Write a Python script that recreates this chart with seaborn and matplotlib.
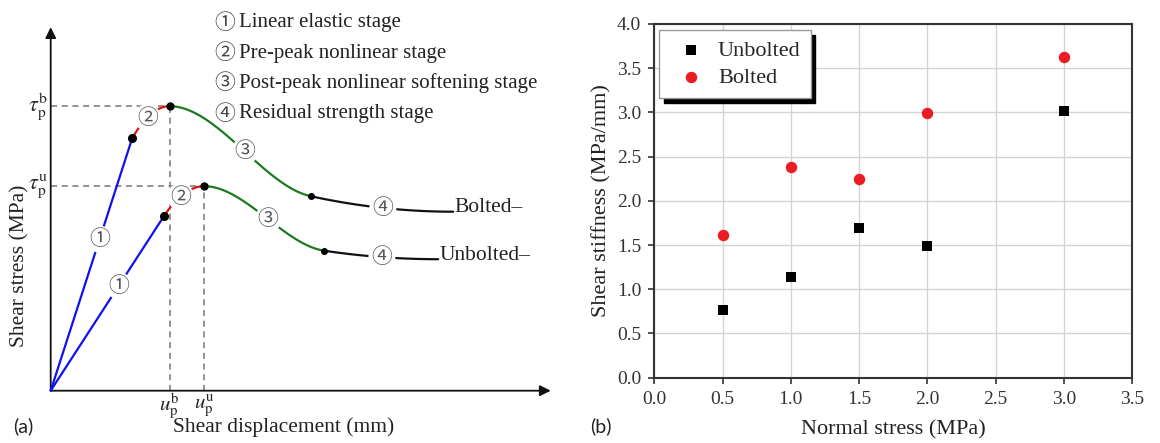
import numpy as np
import pandas as pd
import matplotlib
matplotlib.use("Agg")
import matplotlib.pyplot as plt
import seaborn as sns

# ---------------- (b) measured shear stiffness ----------------
normal_stress = [0.5, 1.0, 1.5, 2.0, 3.0]
stiffness_unbolted = [0.77, 1.14, 1.69, 1.49, 3.02]
stiffness_bolted = [1.61, 2.38, 2.25, 2.99, 3.63]
x_ticks = [0.0, 0.5, 1.0, 1.5, 2.0, 2.5, 3.0, 3.5]
y_ticks = [0.0, 0.5, 1.0, 1.5, 2.0, 2.5, 3.0, 3.5, 4.0]

# ---------------- (a) schematic shear curves (arbitrary units) ----------------
# key points: end of elastic stage, peak, onset of residual stage, end of curve
bolted_disp = [1.63, 2.38, 5.20, 8.05]
bolted_stress = [5.05, 5.69, 3.89, 3.58]
unbolted_disp = [2.27, 3.07, 5.47, 7.75]
unbolted_stress = [3.50, 4.09, 2.80, 2.63]
stage_marks = ["\u2460", "\u2461", "\u2462", "\u2463"]
stage_names = ["Linear elastic stage", "Pre-peak nonlinear stage",
               "Post-peak nonlinear softening stage", "Residual strength stage"]
stage_colors = ["#1010f0", "#e01010", "#1e7a1e", "#111111"]

sns.set_style("white")
SERIF = ["Liberation Serif", "Noto Sans CJK SC"]
plt.rcParams["font.family"] = SERIF
plt.rcParams["mathtext.fontset"] = "stix"

fig = plt.figure(figsize=(11.6, 4.43), dpi=100)

# ======================= panel (a) =======================
axa = fig.add_axes([0, 0, 560 / 1160, 1])
axa.set_xlim(-1.014, 10.186)
axa.set_ylim(-1.046, 7.814)
axa.axis("off")

arrow = dict(arrowstyle="-|>", color="#111111", lw=1.3, mutation_scale=16,
             shrinkA=0, shrinkB=0)
axa.annotate("", xy=(10.0, 0), xytext=(0, 0), arrowprops=arrow)
axa.annotate("", xy=(0, 7.27), xytext=(0, 0), arrowprops=arrow)


def stage_segments(d, s):
    x0, x1, x2, x3 = d
    y0, y1, y2, y3 = s
    t = np.linspace(0, 1, 80)
    seg1 = (np.array([0.0, x0]), np.array([0.0, y0]))
    seg2 = (x0 + (x1 - x0) * t, y1 - (y1 - y0) * (1 - t) ** 2)
    # residual stage flattens out towards the end
    seg4 = (x2 + (x3 - x2) * t, y3 + (y2 - y3) * (1 - t) ** 2)
    slope4 = -2 * (y2 - y3) / (x3 - x2)
    m1 = slope4 * (x2 - x1)
    h00 = 2 * t**3 - 3 * t**2 + 1
    h01 = -2 * t**3 + 3 * t**2
    h11 = t**3 - t**2
    seg3 = (x1 + (x2 - x1) * t, h00 * y1 + h01 * y2 + h11 * m1)
    return [seg1, seg2, seg3, seg4]


label_at = [0.6, 0.4, 0.53, 0.5]
for d, s, name in [(bolted_disp, bolted_stress, "Bolted"),
                   (unbolted_disp, unbolted_stress, "Unbolted")]:
    segs = stage_segments(d, s)
    for (xs, ys), c, frac, mark in zip(segs, stage_colors, label_at, stage_marks):
        sns.lineplot(x=xs, y=ys, color=c, lw=1.6, ax=axa, sort=False,
                     estimator=None, zorder=3)
        if len(xs) == 2:
            lx, ly = xs[0] + frac * (xs[1] - xs[0]), ys[0] + frac * (ys[1] - ys[0])
        else:
            k = int(round(frac * (len(xs) - 1)))
            lx, ly = xs[k], ys[k]
        axa.text(lx, ly, mark, ha="center", va="center", fontsize=15,
                 family=["Noto Sans CJK SC"], color="#555555", zorder=5,
                 bbox=dict(boxstyle="circle,pad=0.12", fc="white", ec="none"))
    # stage transition points
    axa.plot(d[0], s[0], "o", color="black", ms=5.5, zorder=6)
    axa.plot(d[1], s[1], "o", color="black", ms=5, zorder=6)
    axa.plot(d[2], s[2], "o", color="black", ms=4, zorder=6)
    # reference lines to the peak
    axa.plot([0, d[1]], [s[1], s[1]], color="#777777", lw=1.1,
             dashes=(4, 3), zorder=2)
    axa.plot([d[1], d[1]], [0, s[1]], color="#777777", lw=1.1,
             dashes=(4, 3), zorder=2)
    axa.text(d[3] + 0.03, s[3] + 0.08, name + "\u2013", ha="left", va="center",
             fontsize=15.5, color="#222222")

axa.text(-0.06, bolted_stress[1], r"$\tau_{\mathrm{p}}^{\mathrm{b}}$",
         ha="right", va="center", fontsize=16)
axa.text(-0.06, unbolted_stress[1], r"$\tau_{\mathrm{p}}^{\mathrm{u}}$",
         ha="right", va="center", fontsize=16)
axa.text(bolted_disp[1], -0.30, r"$u_{\mathrm{p}}^{\mathrm{b}}$",
         ha="center", va="center", fontsize=15)
axa.text(unbolted_disp[1], -0.30, r"$u_{\mathrm{p}}^{\mathrm{u}}$",
         ha="center", va="center", fontsize=15)

for i, (mark, nm) in enumerate(zip(stage_marks, stage_names)):
    yy = 7.36 - 0.607 * i
    axa.text(3.49, yy, mark, ha="center", va="center", fontsize=15,
             family=["Noto Sans CJK SC"], color="#444444")
    axa.text(3.76, yy, nm, ha="left", va="center", fontsize=15, color="#222222")

axa.text(4.65, -0.72, "Shear displacement (mm)", ha="center", va="center",
         fontsize=15.5, color="#222222")
axa.text(-0.62, 2.50, "Shear stress (MPa)", ha="center", va="center",
         rotation=90, fontsize=15.5, color="#222222")

# ======================= panel (b) =======================
axb = fig.add_axes([654.3 / 1160, 1 - 377.7 / 443, 478 / 1160, 353.7 / 443])
sns.scatterplot(x=normal_stress, y=stiffness_unbolted, marker="s", s=55,
                color="black", linewidth=0, label="Unbolted", ax=axb, zorder=4)
sns.scatterplot(x=normal_stress, y=stiffness_bolted, marker="o", s=68,
                color="#ec1c24", linewidth=0, label="Bolted", ax=axb, zorder=4)
axb.set_xlim(x_ticks[0], x_ticks[-1])
axb.set_ylim(y_ticks[0], y_ticks[-1])
axb.set_xticks(x_ticks)
axb.set_yticks(y_ticks)
axb.set_xticklabels([f"{v:.1f}" for v in x_ticks])
axb.set_yticklabels([f"{v:.1f}" for v in y_ticks])
axb.grid(True, color="#d4d4d4", lw=1.0)
axb.set_axisbelow(True)
for sp in axb.spines.values():
    sp.set_color("#333333")
    sp.set_linewidth(1.5)
    sp.set_visible(True)
axb.tick_params(axis="both", which="major", direction="out", length=4.5,
                width=1.2, color="#333333", labelsize=14, pad=5,
                labelcolor="#333333", bottom=True, left=True)
axb.set_xlabel("Normal stress (MPa)", fontsize=16, color="#222222", labelpad=9)
axb.set_ylabel("Shear stiffness (MPa/mm)", fontsize=16, color="#222222",
               labelpad=4)

leg = axb.legend(loc="upper left", bbox_to_anchor=(0.01, 0.983),
                 borderaxespad=0, fontsize=16, frameon=True, fancybox=False,
                 framealpha=1, edgecolor="#999999", borderpad=0.45,
                 handlelength=2.0, handletextpad=0.2, labelspacing=0.32,
                 shadow=dict(ox=3.5, oy=-3.5, color="black", alpha=1))
leg.get_frame().set_linewidth(1.0)

fig.text(13 / 1160, 1 - 426 / 443, "(a)", ha="left", va="center",
         fontsize=14, family=["Lato", "DejaVu Sans"], color="#222222")
fig.text(590 / 1160, 1 - 426.7 / 443, "(b)", ha="left", va="center",
         fontsize=14, family=["Lato", "DejaVu Sans"], color="#222222")

fig.savefig("out.png", dpi=100, facecolor="white")
